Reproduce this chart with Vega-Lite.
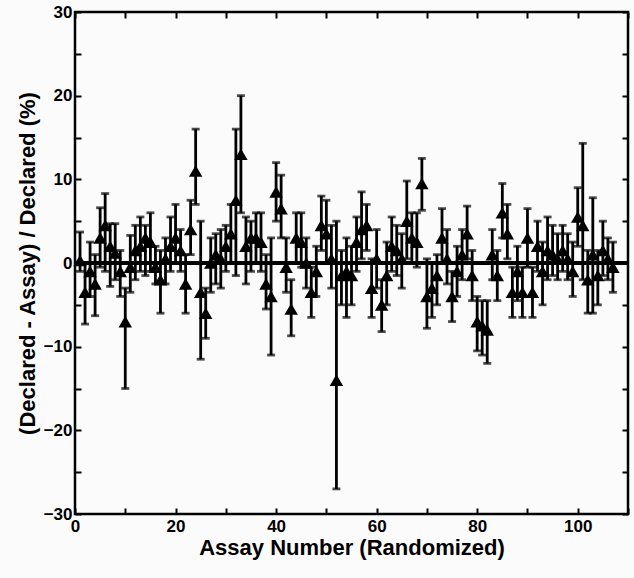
{
  "$schema": "https://vega.github.io/schema/vega-lite/v6.json",
  "width": 553,
  "height": 502,
  "autosize": "none",
  "padding": {"left": 75, "top": 12, "right": 6, "bottom": 64},
  "background": "#fbfbfb",
  "config": {
    "view": {"stroke": "black", "strokeWidth": 2.5},
    "font": "Liberation Sans",
    "axis": {
      "labelFont": "Liberation Sans", "labelFontWeight": "bold", "labelFontSize": 17, "labelColor": "black",
      "titleFont": "Liberation Sans", "titleFontWeight": "bold", "titleFontSize": 22, "titleColor": "black",
      "domain": false, "grid": false, "tickColor": "black", "tickWidth": 2, "tickSize": -6, "labelPadding": 4
    }
  },
  "data": {"values": [
    {"x":1,"y":0.3,"lo":-1,"hi":3.7},
    {"x":2,"y":-3.5,"lo":-7.3,"hi":0},
    {"x":3,"y":-1,"lo":-4,"hi":2.5},
    {"x":4,"y":-2.5,"lo":-6.3,"hi":1},
    {"x":5,"y":3,"lo":-0.5,"hi":6.6},
    {"x":6,"y":4.5,"lo":-1,"hi":8.3},
    {"x":7,"y":2,"lo":-2.8,"hi":4.7},
    {"x":8,"y":1.2,"lo":-2,"hi":4.7},
    {"x":9,"y":-1,"lo":-4,"hi":1.5},
    {"x":10,"y":-7,"lo":-15,"hi":-3},
    {"x":11,"y":-0.5,"lo":-3.5,"hi":3.3},
    {"x":12,"y":1.5,"lo":-2,"hi":4.5},
    {"x":13,"y":2,"lo":-1,"hi":5.5},
    {"x":14,"y":3,"lo":-1.5,"hi":4.5},
    {"x":15,"y":2.5,"lo":-1,"hi":6},
    {"x":16,"y":-0.5,"lo":-2.5,"hi":2},
    {"x":17,"y":-2,"lo":-6,"hi":1.5},
    {"x":18,"y":0.5,"lo":-2.5,"hi":3},
    {"x":19,"y":2,"lo":-1,"hi":5.5},
    {"x":20,"y":3,"lo":0,"hi":7},
    {"x":21,"y":1.5,"lo":-1,"hi":4},
    {"x":22,"y":-2.5,"lo":-6,"hi":1},
    {"x":23,"y":4,"lo":1,"hi":7.5},
    {"x":24,"y":11,"lo":7,"hi":16},
    {"x":25,"y":-3.5,"lo":-11.5,"hi":5},
    {"x":26,"y":-6,"lo":-9,"hi":-3},
    {"x":27,"y":0,"lo":-3.5,"hi":3},
    {"x":28,"y":1,"lo":-2.5,"hi":3.5},
    {"x":29,"y":0.5,"lo":-3,"hi":4},
    {"x":30,"y":2,"lo":-1,"hi":4.5},
    {"x":31,"y":3.5,"lo":0,"hi":7},
    {"x":32,"y":7.5,"lo":-1.5,"hi":16},
    {"x":33,"y":13,"lo":6,"hi":20},
    {"x":34,"y":2,"lo":-2.5,"hi":5.5},
    {"x":35,"y":3,"lo":-1,"hi":5},
    {"x":36,"y":3,"lo":0,"hi":6},
    {"x":37,"y":2.5,"lo":-1,"hi":6},
    {"x":38,"y":-2.5,"lo":-5.5,"hi":1},
    {"x":39,"y":-4,"lo":-11,"hi":3},
    {"x":40,"y":8.5,"lo":5,"hi":12},
    {"x":41,"y":6.5,"lo":3,"hi":10.5},
    {"x":42,"y":-0.5,"lo":-3.5,"hi":3},
    {"x":43,"y":-5.5,"lo":-8.7,"hi":-2},
    {"x":44,"y":3,"lo":0,"hi":6},
    {"x":45,"y":2.5,"lo":-0.5,"hi":6},
    {"x":46,"y":0,"lo":-3,"hi":3},
    {"x":47,"y":-3.5,"lo":-6.5,"hi":-0.5},
    {"x":48,"y":-1,"lo":-4,"hi":2},
    {"x":49,"y":4.5,"lo":1.5,"hi":8},
    {"x":50,"y":3.5,"lo":0,"hi":7.5},
    {"x":51,"y":0.5,"lo":-3,"hi":4.5},
    {"x":52,"y":-14,"lo":-27,"hi":5},
    {"x":53,"y":-1.5,"lo":-5,"hi":1.5},
    {"x":54,"y":-1,"lo":-6.5,"hi":3},
    {"x":55,"y":-1.5,"lo":-5,"hi":2},
    {"x":56,"y":2.5,"lo":-1,"hi":5.5},
    {"x":57,"y":4,"lo":0.5,"hi":8.5},
    {"x":58,"y":4.5,"lo":1.5,"hi":7},
    {"x":59,"y":-3,"lo":-6.5,"hi":0.5},
    {"x":60,"y":0.5,"lo":-3,"hi":4},
    {"x":61,"y":-5,"lo":-8.2,"hi":-2},
    {"x":62,"y":-1.5,"lo":-5,"hi":2.5},
    {"x":63,"y":2,"lo":-1,"hi":5.5},
    {"x":64,"y":1.5,"lo":-1.5,"hi":4.5},
    {"x":65,"y":0.5,"lo":-3,"hi":3.5},
    {"x":66,"y":5,"lo":0.5,"hi":9.8},
    {"x":67,"y":3,"lo":0,"hi":6},
    {"x":68,"y":2.5,"lo":-0.5,"hi":6},
    {"x":69,"y":9.5,"lo":6.3,"hi":12.5},
    {"x":70,"y":-4,"lo":-7.8,"hi":0.5},
    {"x":71,"y":-3,"lo":-6.5,"hi":0},
    {"x":72,"y":-1.5,"lo":-5,"hi":1},
    {"x":73,"y":3,"lo":0,"hi":6.5},
    {"x":74,"y":0.5,"lo":-2.5,"hi":4},
    {"x":75,"y":-4,"lo":-7,"hi":-1},
    {"x":76,"y":-1,"lo":-4,"hi":2},
    {"x":77,"y":1,"lo":-2,"hi":4},
    {"x":78,"y":3.5,"lo":0.5,"hi":6.8},
    {"x":79,"y":-1.5,"lo":-4.5,"hi":1.5},
    {"x":80,"y":-7,"lo":-10.5,"hi":-4},
    {"x":81,"y":-7.5,"lo":-11,"hi":-4.5},
    {"x":82,"y":-8,"lo":-12,"hi":-4.5},
    {"x":83,"y":1,"lo":-2,"hi":4},
    {"x":84,"y":-1.5,"lo":-4.5,"hi":1.5},
    {"x":85,"y":6,"lo":3,"hi":9.5},
    {"x":86,"y":3.5,"lo":0.5,"hi":7},
    {"x":87,"y":-3.5,"lo":-6.5,"hi":-0.5},
    {"x":88,"y":-1,"lo":-4.5,"hi":2},
    {"x":89,"y":-3.5,"lo":-6.5,"hi":-0.5},
    {"x":90,"y":3,"lo":-0.5,"hi":6.5},
    {"x":91,"y":-3.5,"lo":-6.5,"hi":-0.5},
    {"x":92,"y":2,"lo":-1,"hi":5},
    {"x":93,"y":-1,"lo":-5,"hi":2.5},
    {"x":94,"y":1.5,"lo":-2,"hi":5.5},
    {"x":95,"y":1,"lo":-1.5,"hi":4.5},
    {"x":96,"y":0.5,"lo":-2,"hi":3.5},
    {"x":97,"y":1.5,"lo":-1,"hi":4.5},
    {"x":98,"y":0.5,"lo":-2,"hi":3.5},
    {"x":99,"y":-1,"lo":-4,"hi":2.5},
    {"x":100,"y":5.5,"lo":2,"hi":9},
    {"x":101,"y":4.5,"lo":-2,"hi":14.3},
    {"x":102,"y":-2,"lo":-6,"hi":1.5},
    {"x":103,"y":1,"lo":-6,"hi":7.8},
    {"x":104,"y":-1.5,"lo":-5,"hi":1.5},
    {"x":105,"y":1.5,"lo":-1.5,"hi":5},
    {"x":106,"y":0.5,"lo":-2,"hi":3},
    {"x":107,"y":-0.5,"lo":-3.5,"hi":2.5}
  ]},
  "resolve": {"axis": {"x": "independent", "y": "independent"}},
  "layer": [
    {
      "mark": {"type": "rule", "color": "black", "strokeWidth": 2.5},
      "encoding": {
        "y": {"datum": 0, "type": "quantitative", "scale": {"domain": [-30, 30], "nice": false},
          "axis": {"orient": "right", "values": [-30,-25,-20,-15,-10,-5,0,5,10,15,20,25,30], "labels": false, "title": null}}
      }
    },
    {
      "mark": {"type": "rule", "color": "black", "strokeWidth": 2.8},
      "encoding": {
        "x": {"field": "x", "type": "quantitative", "scale": {"domain": [0, 110], "nice": false},
          "axis": {"orient": "top", "values": [0,10,20,30,40,50,60,70,80,90,100,110], "labels": false, "title": null}},
        "y": {"field": "lo", "type": "quantitative", "axis": null},
        "y2": {"field": "hi"}
      }
    },
    {
      "mark": {"type": "tick", "orient": "horizontal", "color": "black", "thickness": 2.8, "size": 8},
      "encoding": {
        "x": {"field": "x", "type": "quantitative", "axis": null},
        "y": {"field": "lo", "type": "quantitative", "axis": null}
      }
    },
    {
      "mark": {"type": "tick", "orient": "horizontal", "color": "black", "thickness": 2.8, "size": 8},
      "encoding": {
        "x": {"field": "x", "type": "quantitative", "axis": null},
        "y": {"field": "hi", "type": "quantitative", "axis": null}
      }
    },
    {
      "mark": {"type": "point", "shape": "triangle-up", "filled": true, "color": "black", "opacity": 1, "size": 180},
      "encoding": {
        "x": {"field": "x", "type": "quantitative",
          "axis": {"orient": "bottom", "values": [0,10,20,30,40,50,60,70,80,90,100,110],
            "labelExpr": "datum.value % 20 == 0 && datum.value <= 100 ? datum.label : ''",
            "title": "Assay Number (Randomized)", "titlePadding": 3, "labelPadding": 10, "labelFlush": false}},
        "y": {"field": "y", "type": "quantitative",
          "axis": {"orient": "left", "values": [-30,-25,-20,-15,-10,-5,0,5,10,15,20,25,30],
            "labelExpr": "datum.value % 10 == 0 ? datum.label : ''",
            "title": "(Declared - Assay) / Declared (%)", "titlePadding": 4, "labelPadding": 9, "labelFlush": false}}
      }
    }
  ]
}
